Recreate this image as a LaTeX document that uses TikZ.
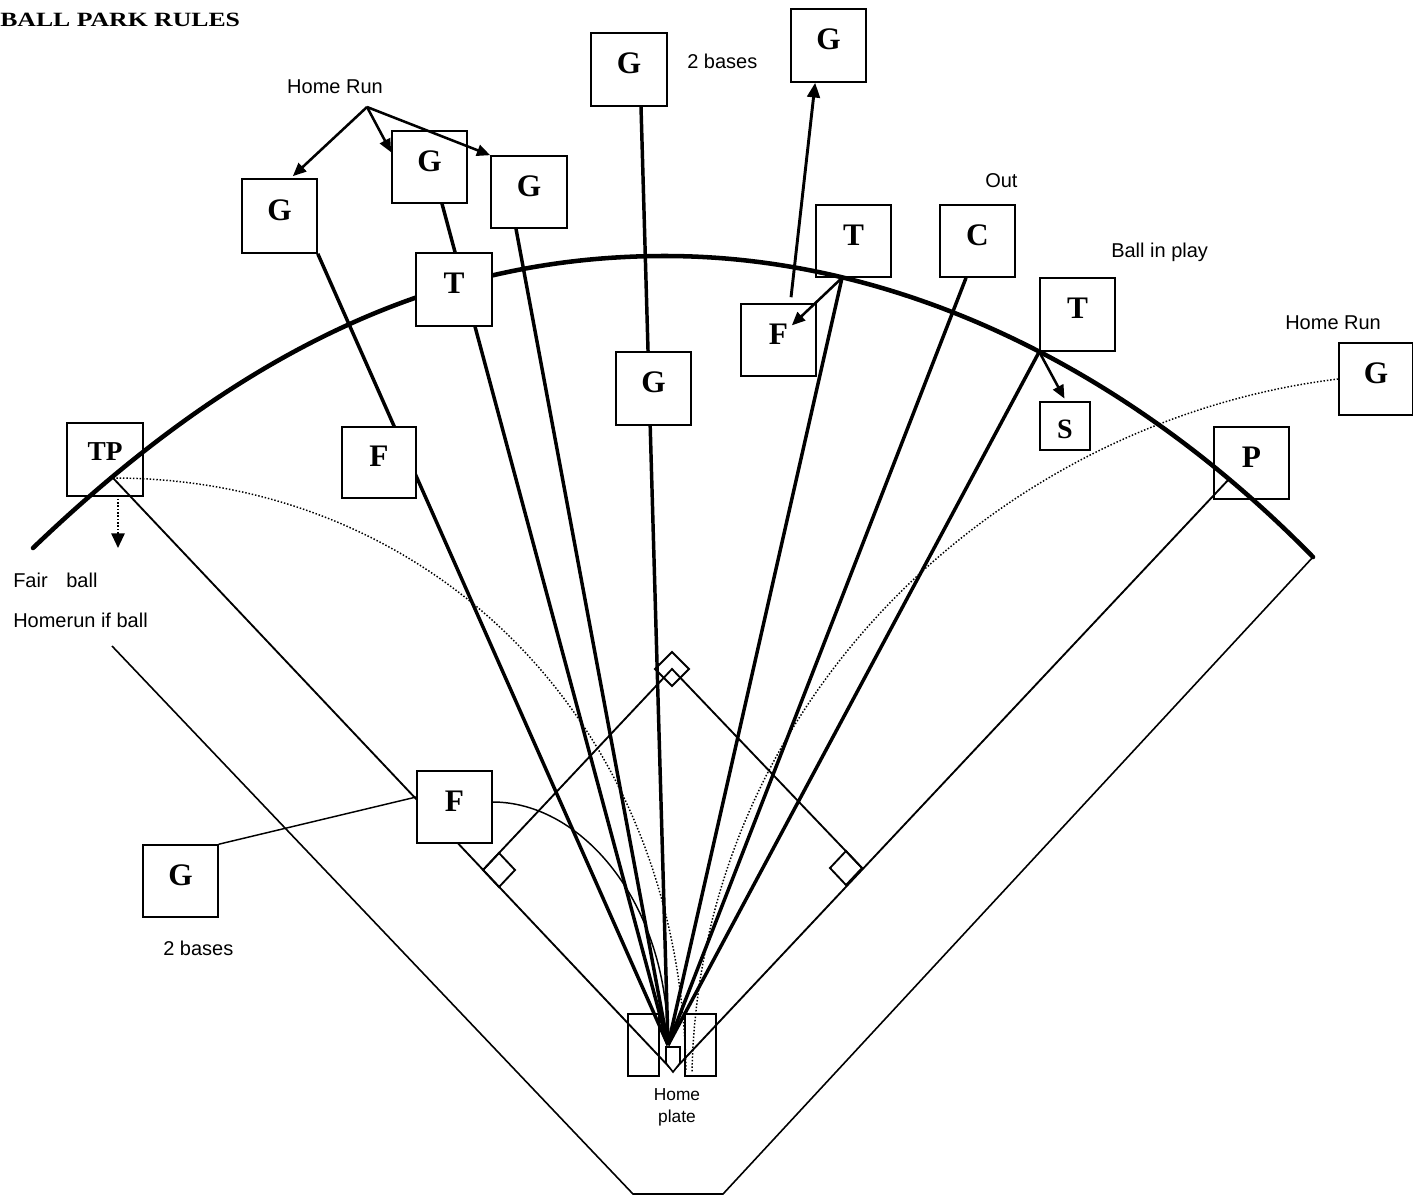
\documentclass[tikz,border=0pt]{standalone}
\usepackage{fontspec}
\setmainfont{Liberation Serif}
\setsansfont{Liberation Sans}
\usetikzlibrary{arrows.meta,backgrounds,calc}
\begin{document}
\begin{tikzpicture}[x=0.75pt,y=-0.75pt,
  box/.style={draw,line width=1.2pt,fill=white,inner sep=0pt,minimum width=56.25pt,minimum height=54pt,text height=6pt,text depth=0pt,font=\fontsize{23.5}{24}\selectfont\bfseries},
  open/.style={fill=none},
  ray/.style={line width=2.6pt},
  callout/.style={line width=1.9pt,-{Triangle[length=10pt,width=8.5pt]}},
  field/.style={line width=1.4pt},
  outline/.style={line width=1.2pt},
  thin/.style={line width=1.1pt},
  fence/.style={line width=3.4pt,line join=round,line cap=round},
  dots/.style={line width=1.1pt,dash pattern=on 1.1pt off 1.4pt},
  note/.style={font=\sffamily\fontsize{15}{17}\selectfont,inner sep=0pt},
]
\useasboundingbox (0,0) rectangle (1413,1196);

% boxes
\node[box,minimum height=55.5pt] (g1) at (279.5,216) {G};
\node[box] (g2) at (429.5,167) {G};
\node[box,minimum width=57pt] (g3) at (529,192) {G};
\node[box,minimum width=57pt,minimum height=54.75pt] (tl) at (454,289.5) {T};
\node[box,minimum width=57pt,minimum height=54.75pt] (gtc) at (629,69.5) {G};
\node[box,minimum height=54.75pt] (gtr) at (828.5,45.5) {G};
\node[box,open] (tm) at (853.5,241) {T};
\node[box] (c) at (977.5,241) {C};
\node[box] (fm) at (778.5,340) {F};
\node[box,minimum height=54.75pt] (gm) at (653.5,388.5) {G};
\node[box,open,minimum height=54.75pt] (tr) at (1077.5,314.5) {T};
\node[box,minimum width=37.5pt,minimum height=36pt,text height=18pt,font=\fontsize{21}{22}\selectfont\bfseries] (s) at (1065,426) {S};
\node[box,open] (p) at (1251.5,463) {P};
\node[box,minimum width=55.5pt] (gr) at (1376,379) {G};
\node[box,open,minimum width=57pt,minimum height=54.75pt,text height=0.75pt,font=\fontsize{20.5}{21}\selectfont\bfseries] (tp) at (105,459.5) {TP};
\node[box,minimum width=55.5pt,minimum height=53.25pt] (fl) at (379,462.5) {F};
\node[box] (flow) at (454.5,807) {F};
\node[box] (gll) at (180.5,881) {G};

\coordinate (O) at (668,1045);
\coordinate (H) at (673,1071);
\coordinate (hr) at (367,107);
\coordinate (tpend) at (118,548);
\coordinate (lc) at (113,478);
\coordinate (rc) at (1230,478);
\coordinate (third) at (483,870);
\coordinate (first) at (862,868);
\coordinate (second) at (672,669);

\begin{scope}[on background layer]
  % outfield fence
  \draw[fence] (33,548) .. controls (250,340) and (450,256) .. (665,256)
                        .. controls (900,256) and (1130,370) .. (1313,557);
  % outer boundary
  \draw[outline] (112,646) -- (633,1194) -- (723,1194) -- (1313,557);
  % foul lines and diamond
  \draw[field] (lc) -- (H) -- (rc);
  \draw[field] (third) -- (second) -- (first);
  \draw[field] (third) -- (499,853) -- (515,870) -- (499,887) -- cycle;
  \draw[field] (first) -- (846,851) -- (830,868) -- (846,885) -- cycle;
  \draw[field] (672,652) -- (689,669) -- (672,686) -- (655,669) -- cycle;
  % dotted flight paths
  \draw[dots] (lc) .. controls (430,478) and (680,720) .. (686,1072);
  \draw[dots] (gr.west) .. controls (1000,420) and (700,700) .. (692,1072);
  % rays from home
  \draw[ray] (g1.south east) -- (O);
  \draw[ray] ([xshift=9.4pt]g2.south) -- (O);
  \draw[ray] ([xshift=-9.75pt]g3.south) -- (O);
  \draw[ray] ([xshift=9pt]gtc.south) -- (O);
  \draw[ray] ([xshift=-8.6pt]tm.south) -- (O);
  \draw[ray] ([xshift=-8.6pt]c.south) -- (O);
  \draw[ray] (tr.south west) -- (O);
  % ground ball off the fence
  \draw[thin] (gll.north east) -- ([yshift=7.5pt]flow.west);
  \draw[thin] ([yshift=3.75pt]flow.east) .. controls (580,802) and (668,900) .. (O);
\end{scope}

% home plate and batter's boxes
\draw[line width=1.2pt,fill=white] (666,1047) -- (680,1047) -- (680,1063) -- (673,1072) -- (666,1063) -- cycle;
\draw[line width=1.5pt] (628,1014) rectangle (659,1076);
\draw[line width=1.5pt] (685,1014) rectangle (716,1076);

% arrows
\draw[callout] (hr) -- ([xshift=10pt,yshift=1.5pt]g1.north);
\draw[callout] (hr) -- ([yshift=11pt]g2.west);
\draw[callout] (hr) -- (g3.north west);
\draw[line width=2.2pt,-{Triangle[length=11pt,width=9.5pt]}] ([xshift=9.4pt,yshift=4.5pt]fm.north) -- ([xshift=-10pt]gtr.south);
\draw[callout] ([xshift=-8.6pt]tm.south) -- ([xshift=10pt,yshift=11pt]fm.center);
\draw[callout] (tr.south west) -- ([xshift=-0.4pt,yshift=2pt]s.north);
\draw[dots,line width=1.4pt,-{Triangle[length=11pt,width=10pt]}] ([xshift=9.75pt,yshift=-1.5pt]tp.south) -- (tpend);

% texts
\node[anchor=base west,inner sep=0pt] (title) at (0,26) {\scalebox{1.27}[1]{\fontsize{15.2}{16}\selectfont\bfseries BALL PARK RULES}};
\node[note,anchor=base] (hrtext) at (335,93) {Home Run};
\node[note,anchor=base west] (twotop) at (687,68) {2 bases};
\node[note,anchor=base west] (out) at (985,187) {Out};
\node[note,anchor=base west] (bip) at (1111,257) {Ball in play};
\node[note,anchor=base west] (hrright) at (1285,329) {Home Run};
\node[note,anchor=base west] (fair) at (13,587) {Fair\hspace{14pt}ball};
\node[note,anchor=base west] (homerun) at (13,627) {Homerun if ball};
\node[note,anchor=base west] (twolow) at (163,955) {2 bases};
\node[font=\sffamily\fontsize{13}{15}\selectfont,inner sep=0pt,anchor=base] (home) at (677,1100) {Home};
\node[font=\sffamily\fontsize{13}{15}\selectfont,inner sep=0pt,anchor=base] (plate) at (677,1122) {plate};
\end{tikzpicture}
\end{document}
